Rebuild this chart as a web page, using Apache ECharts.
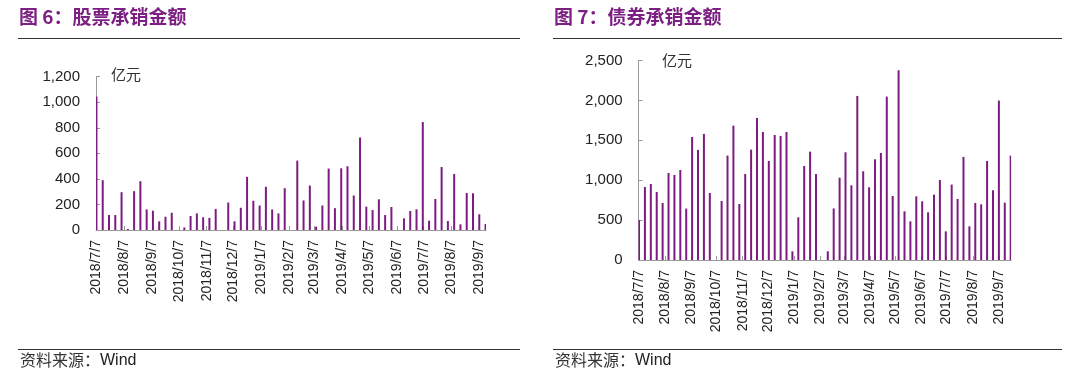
<!DOCTYPE html>
<html>
<head>
<meta charset="utf-8">
<script src="https://cdn.jsdelivr.net/npm/echarts@6/dist/echarts.min.js"></script>
<style>
html,body{margin:0;padding:0;background:#fff;}
#c{width:1080px;height:383px;}
</style>
</head>
<body>
<div id="c"></div>
<script>
// ---- data (weekly values, 亿元) ----
const stockStart = [2018, 7, 7];
const stockValues = [1045, 390, 117, 117, 296, 8, 304, 382, 161, 151, 68, 104, 135, 0, 20, 110, 130, 100, 95, 165, 0,
  215, 68, 174, 416, 229, 192, 338, 161, 130, 327, 0, 543, 231, 348, 26, 192, 481, 171, 483, 499, 270, 724,
  183, 156, 240, 117, 180, 0, 91, 149, 162, 845, 73, 243, 493, 70, 438, 44, 290, 287, 123, 47];
const bondStart = [2018, 7, 7];
const bondValues = [500, 915, 953, 853, 715, 1091, 1066, 1128, 644, 1542, 1379, 1580, 840, 0, 740, 1308, 1684, 702,
  1078, 1383, 1780, 1605, 1241, 1567, 1555, 1605, 109, 535, 1178, 1358, 1078, 0, 109, 646, 1032, 1350, 936, 2056,
  1112, 911, 1262, 1341, 2048, 802, 2378, 610, 485, 798, 735, 598, 819, 1003, 359, 945, 765, 1292, 422, 715, 698,
  1241, 874, 1998, 719, 1308];
const monthLabels = ['2018/7/7', '2018/8/7', '2018/9/7', '2018/10/7', '2018/11/7', '2018/12/7', '2019/1/7',
  '2019/2/7', '2019/3/7', '2019/4/7', '2019/5/7', '2019/6/7', '2019/7/7', '2019/8/7', '2019/9/7'];
const stockTicks = [0, 200, 400, 600, 800, 1000, 1200];
const bondTicks = [0, 500, 1000, 1500, 2000, 2500];

// ---- helpers ----
function buildDays(start, nWeeks) {
  const t0 = Date.UTC(start[0], start[1] - 1, start[2]);
  const days = [];
  const total = (nWeeks - 1) * 7 + 1;
  for (let i = 0; i < total; i++) {
    const d = new Date(t0 + i * 86400000);
    days.push(d.getUTCFullYear() + '/' + (d.getUTCMonth() + 1) + '/' + d.getUTCDate());
  }
  return days;
}
function spread(values) {
  const out = [];
  values.forEach((v, i) => { out[i * 7] = v; });
  for (let i = 0; i < out.length; i++) if (out[i] === undefined) out[i] = null;
  return out;
}
const stockDays = buildDays(stockStart, stockValues.length);
const bondDays = buildDays(bondStart, bondValues.length);
const isMonth = (idx, val) => monthLabels.indexOf(val) >= 0;
const fmt = v => Number(v).toLocaleString('en-US');

const purple = '#7d1c80';
const axisGrey = '#9a9a9a';
const latin = 'Liberation Sans, Arial, sans-serif';
const cjk = '"Noto Sans CJK SC", sans-serif';

function xAxis(gridIndex, days) {
  return {
    type: 'category', gridIndex, data: days, boundaryGap: true,
    axisLine: { show: true, lineStyle: { color: axisGrey, width: 1 } },
    axisTick: { show: true, inside: true, length: 4, interval: isMonth, alignWithLabel: true,
      lineStyle: { color: axisGrey } },
    axisLabel: { interval: isMonth, rotate: 90, margin: 10, fontSize: 14, color: '#222', fontFamily: latin },
    splitLine: { show: false }
  };
}
function yAxis(gridIndex, ticks) {
  return {
    type: 'value', gridIndex, min: ticks[0], max: ticks[ticks.length - 1], interval: ticks[1] - ticks[0],
    axisLine: { show: true, lineStyle: { color: axisGrey } },
    axisTick: { show: true, inside: true, length: 4, lineStyle: { color: axisGrey } },
    axisLabel: { formatter: fmt, fontSize: 15, color: '#222', margin: 16, fontFamily: latin },
    splitLine: { show: false }
  };
}

const chart = echarts.init(document.getElementById('c'), null, { renderer: 'canvas' });
chart.setOption({
  animation: false,
  backgroundColor: '#fff',
  grid: [
    { left: 96, top: 76.7, width: 390, height: 153.3 },
    { left: 638.6, top: 60.5, width: 372.5, height: 199.5 }
  ],
  xAxis: [xAxis(0, stockDays), xAxis(1, bondDays)],
  yAxis: [yAxis(0, stockTicks), yAxis(1, bondTicks)],
  series: [
    { type: 'bar', xAxisIndex: 0, yAxisIndex: 0, data: spread(stockValues), barWidth: 2,
      itemStyle: { color: purple } },
    { type: 'bar', xAxisIndex: 1, yAxisIndex: 1, data: spread(bondValues), barWidth: 2,
      itemStyle: { color: purple } }
  ],
  graphic: [
    { type: 'text', left: 19, top: 7, style: { text: '图 6：股票承销金额', fill: '#7b1f82',
      font: 'bold 19px "Noto Sans CJK SC", sans-serif' } },
    { type: 'text', left: 554, top: 7, style: { text: '图 7：债券承销金额', fill: '#7b1f82',
      font: 'bold 19px "Noto Sans CJK SC", sans-serif' } },
    { type: 'line', shape: { x1: 18, y1: 38.5, x2: 520, y2: 38.5 }, style: { stroke: '#333', lineWidth: 1 } },
    { type: 'line', shape: { x1: 553, y1: 38.5, x2: 1062, y2: 38.5 }, style: { stroke: '#333', lineWidth: 1 } },
    { type: 'line', shape: { x1: 18, y1: 349.5, x2: 520, y2: 349.5 }, style: { stroke: '#333', lineWidth: 1 } },
    { type: 'line', shape: { x1: 553, y1: 349.5, x2: 1062, y2: 349.5 }, style: { stroke: '#333', lineWidth: 1 } },
    { type: 'text', left: 20, top: 352, style: { text: '资料来源：', fill: '#333', font: '16px ' + cjk } },
    { type: 'text', left: 100, top: 353, style: { text: 'Wind', fill: '#222', font: '16px ' + latin } },
    { type: 'text', left: 555, top: 352, style: { text: '资料来源：', fill: '#333', font: '16px ' + cjk } },
    { type: 'text', left: 635, top: 353, style: { text: 'Wind', fill: '#222', font: '16px ' + latin } },
    { type: 'text', left: 111, top: 67, style: { text: '亿元', fill: '#333', font: '15px ' + cjk } },
    { type: 'text', left: 662, top: 53, style: { text: '亿元', fill: '#333', font: '15px ' + cjk } }
  ]
});
</script>
</body>
</html>
